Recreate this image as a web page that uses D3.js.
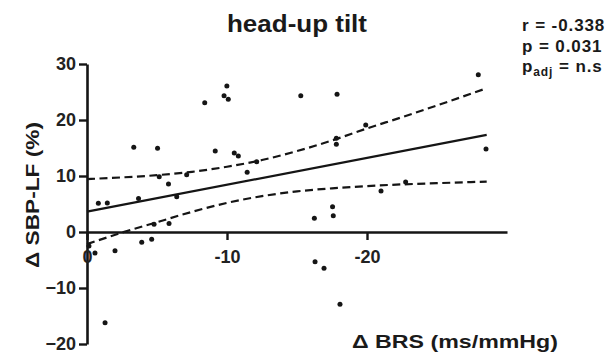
<!DOCTYPE html>
<html>
<head>
<meta charset="utf-8">
<script src="https://cdn.jsdelivr.net/npm/d3@7"></script>
<style>
  html, body { margin: 0; padding: 0; background: #fff; }
  svg { display: block; font-family: "Liberation Sans", Arial, sans-serif; }
</style>
</head>
<body>
<svg id="chart" width="609" height="358"></svg>
<script>
// Change in BRS (x) vs change in SBP-LF (y) during head-up tilt
const brsChange = [
  -0.81, -1.45, -3.34, -3.68, -5.04, -5.16, -5.82, -6.41, -5.86, -4.79,
  -7.12, -8.41, -9.16, -9.99, -9.79, -10.09, -10.52, -10.81, -11.44, -12.12,
  -15.27, -17.86, -17.81, -17.81, -19.91, -16.24, -17.54, -17.59, -21.0, -22.76,
  -27.95, -28.5, -0.14, -0.57, -2.0, -3.91, -4.62, -1.29, -16.29, -16.93, -18.07
];
const sbpLfChange = [
  5.13, 5.18, 15.13, 5.98, 14.95, 9.88, 8.57, 6.30, 1.52, 1.38,
  10.21, 23.09, 14.46, 26.07, 24.32, 23.70, 14.11, 13.57, 10.66, 12.55,
  24.34, 24.59, 16.73, 15.68, 19.11, 2.45, 4.52, 2.91, 7.32, 8.93,
  28.09, 14.82, -2.5, -3.75, -3.34, -1.84, -1.30, -16.2, -5.30, -6.48, -12.91
];

// Linear fit (end points) and 95% confidence band
const fitX = [0, -28.55];
const fitY = [3.63, 17.33];
const bandX = [0, -2.5, -5, -7.5, -10, -12.5, -15, -17.5, -20, -22.5, -25, -28.55];
const bandUpper = [9.45, 9.75, 10.15, 10.75, 11.65, 12.85, 14.45, 16.35, 18.5, 20.5, 22.6, 25.68];
const bandLower = [-2.17, -0.1, 1.75, 3.6, 5.2, 6.4, 7.25, 7.8, 8.2, 8.5, 8.72, 9.0];

const xTicks = [0, -10, -20];
const yTicks = [-20, -10, 0, 10, 20, 30];

const titleText = "head-up tilt";
const xLabel = "\u0394 BRS (ms/mmHg)";
const yLabel = "\u0394 SBP-LF (%)";
const stats = { r: "r = -0.338", p: "p = 0.031", padj: " = n.s" };

const svg = d3.select("#chart");
const ink = "#151515";

const x = d3.scaleLinear().domain([0, -30]).range([87, 507]);
const y = d3.scaleLinear().domain([-20, 30]).range([344, 64]);

// Y axis at x = 0
const yAxis = d3.axisLeft(y).tickValues(yTicks).tickSize(8).tickSizeOuter(0).tickPadding(3);
const gy = svg.append("g").attr("transform", `translate(${x(0)},0)`).call(yAxis);
gy.select(".domain").attr("stroke", ink).attr("stroke-width", 2.6);
gy.selectAll(".tick line").attr("stroke", ink).attr("stroke-width", 2.4);
gy.selectAll(".tick text")
  .attr("fill", "#222").attr("font-size", 18).attr("font-weight", "bold")
  .attr("font-family", "'Liberation Sans', Arial, sans-serif");

// X axis at y = 0
const xAxis = d3.axisBottom(x).tickValues(xTicks).tickSize(8).tickSizeOuter(0).tickPadding(10)
  .tickFormat(d => d === 0 ? "0" : d3.format("d")(d).replace("\u2212", "-"));
const gx = svg.append("g").attr("transform", `translate(0,${y(0)})`).call(xAxis);
gx.select(".domain").attr("stroke", ink).attr("stroke-width", 2.6);
gx.selectAll(".tick line").attr("stroke", ink).attr("stroke-width", 2.4);
gx.selectAll(".tick text")
  .attr("fill", "#222").attr("font-size", 18).attr("font-weight", "bold")
  .attr("font-family", "'Liberation Sans', Arial, sans-serif");

// Confidence band (dashed)
const bandLine = d3.line().curve(d3.curveMonotoneX);
[bandUpper, bandLower].forEach(vals => {
  svg.append("path")
    .attr("d", bandLine(bandX.map((v, i) => [x(v), y(vals[i])])))
    .attr("fill", "none").attr("stroke", ink).attr("stroke-width", 2.2)
    .attr("stroke-dasharray", "8,4.5");
});

// Regression line
svg.append("path")
  .attr("d", d3.line()(fitX.map((v, i) => [x(v), y(fitY[i])])))
  .attr("fill", "none").attr("stroke", ink).attr("stroke-width", 2.2);

// Data points
svg.append("g").selectAll("circle")
  .data(brsChange.map((v, i) => [v, sbpLfChange[i]]))
  .join("circle")
  .attr("cx", d => x(d[0])).attr("cy", d => y(d[1]))
  .attr("r", 2.5).attr("fill", ink);

// Title
svg.append("text")
  .attr("x", 297).attr("y", 32).attr("text-anchor", "middle")
  .attr("font-size", 23).attr("font-weight", "bold").attr("fill", "#1a1a1a")
  .attr("textLength", 140).attr("lengthAdjust", "spacingAndGlyphs")
  .text(titleText);

// X axis title
svg.append("text")
  .attr("x", 352).attr("y", 348)
  .attr("font-size", 19).attr("font-weight", "bold").attr("fill", "#1a1a1a")
  .attr("textLength", 206).attr("lengthAdjust", "spacingAndGlyphs")
  .text(xLabel);

// Y axis title
svg.append("text")
  .attr("transform", "translate(39,195) rotate(-90)")
  .attr("x", -73)
  .attr("font-size", 19).attr("font-weight", "bold").attr("fill", "#1a1a1a")
  .attr("textLength", 146).attr("lengthAdjust", "spacingAndGlyphs")
  .text(yLabel);

// Statistics
const statG = svg.append("g")
  .attr("font-size", 17).attr("font-weight", "bold").attr("fill", "#1a1a1a")
  .attr("letter-spacing", 0.9);
statG.append("text").attr("x", 522).attr("y", 31).text(stats.r);
statG.append("text").attr("x", 522).attr("y", 52).text(stats.p);
const pa = statG.append("text").attr("x", 522).attr("y", 72);
pa.append("tspan").text("p");
pa.append("tspan").attr("font-size", 12).attr("dy", 4).text("adj");
pa.append("tspan").attr("dy", -4).text(stats.padj);
</script>
</body>
</html>
